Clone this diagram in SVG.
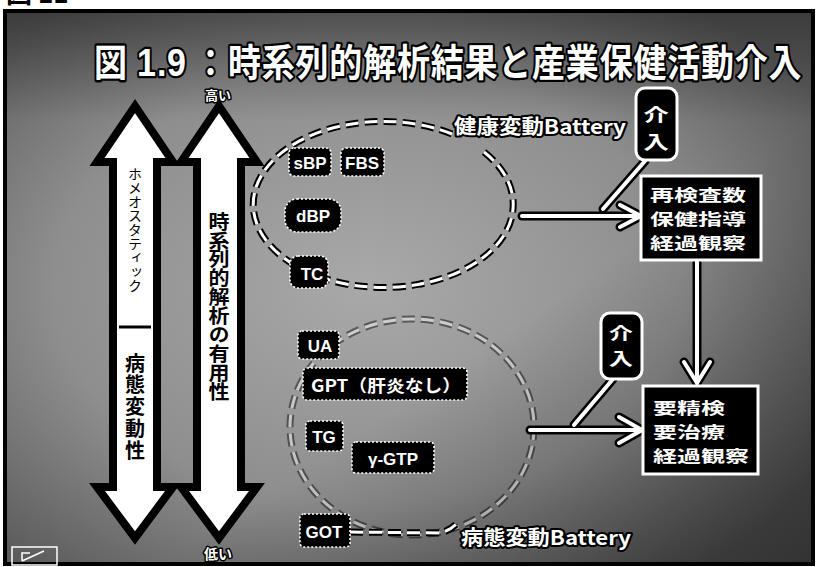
<svg xmlns="http://www.w3.org/2000/svg" width="818" height="567" viewBox="0 0 818 567">
<defs>
<radialGradient id="bgGrad" cx="0.45" cy="0.5" r="0.65">
<stop offset="0" stop-color="#a9a9a9"/>
<stop offset="0.6" stop-color="#8e8e8e"/>
<stop offset="1" stop-color="#5c5c5c"/>
</radialGradient>
<linearGradient id="darkBR" x1="0" y1="0" x2="1" y2="1">
<stop offset="0.6" stop-color="#000" stop-opacity="0"/>
<stop offset="1" stop-color="#000" stop-opacity="0.45"/>
</linearGradient>
<linearGradient id="topBand" x1="0" y1="0" x2="0" y2="1">
<stop offset="0" stop-color="#000" stop-opacity="0.35"/>
<stop offset="1" stop-color="#000" stop-opacity="0"/>
</linearGradient>
</defs>
<style>
.jp{font-family:"Noto Sans CJK JP","Noto Sans CJK SC",sans-serif;font-weight:bold}
.lat{font-family:"Liberation Sans",Arial,sans-serif;font-weight:bold}
.halo{fill:#fff;stroke:#000;stroke-width:4;paint-order:stroke;stroke-linejoin:round}
.item{fill:#000;stroke:#fff;stroke-width:1.6;stroke-dasharray:2 2}
.itemtxt{fill:#fff;font-size:17px}
.bigarrow{fill:#fff;stroke:#000;stroke-width:8;stroke-linejoin:miter}
.outline{fill:none;stroke:#000;stroke-width:9;stroke-linecap:round;stroke-linejoin:round}
.wline{fill:none;stroke:#fff;stroke-width:4;stroke-linecap:round;stroke-linejoin:round}
.dashO{fill:none;stroke:#000;stroke-width:7;stroke-dasharray:13 6}
.dashW{fill:none;stroke:#fff;stroke-width:3;stroke-dasharray:13 6}
.box{fill:#000;stroke:#fff;stroke-width:3}
.boxtxt{fill:#fff;font-size:16px}
</style>

<!-- page caption, cut off at top -->
<text x="6" y="3" class="jp" font-size="26" fill="#000">図 11</text>

<!-- slide background -->
<rect x="5" y="11" width="808" height="553" fill="url(#bgGrad)"/>
<rect x="5" y="11" width="808" height="110" fill="url(#topBand)"/>
<rect x="5" y="11" width="808" height="553" fill="url(#darkBR)"/>
<rect x="5" y="11" width="808" height="553" fill="none" stroke="#000" stroke-width="4"/>

<!-- title -->
<g id="title" transform="translate(0,76) scale(1,1.15)">
<text class="jp halo" font-size="33" y="0"><tspan x="94">図</tspan><tspan x="137" class="lat" font-size="34">1</tspan><tspan x="157" class="lat" font-size="34">.</tspan><tspan x="167" class="lat" font-size="34">9</tspan><tspan x="194">：</tspan><tspan x="228" letter-spacing="0.8">時系列的解析結果と産業保健活動介入</tspan></text>
</g>

<!-- left vertical arrows -->
<g id="arrow-homeostatic">
<polygon class="bigarrow" points="135,106 173,162 157,162 157,487 173,487 135,538 97,487 113,487 113,162 97,162"/>
<text x="135" y="167" class="jp" font-size="14" fill="#000" style="writing-mode:vertical-rl;font-weight:normal">ホメオスタティック</text>
<line x1="119" y1="327" x2="151" y2="327" stroke="#000" stroke-width="3"/>
<text x="135" y="353" class="jp" font-size="20" fill="#000" style="writing-mode:vertical-rl" textLength="107" lengthAdjust="spacing">病態変動性</text>
</g>
<g id="arrow-usefulness">
<polygon class="bigarrow" points="219,106 257,162 241,162 241,487 257,487 219,538 181,487 197,487 197,162 181,162"/>
<text x="219" y="212" class="jp" font-size="21" fill="#000" style="writing-mode:vertical-rl" textLength="189" lengthAdjust="spacingAndGlyphs">時系列的解析の有用性</text>
<text x="218" y="100" class="jp halo" font-size="13" text-anchor="middle" style="stroke-width:3">高い</text>
<text x="218" y="559" class="jp halo" font-size="14" text-anchor="middle" style="stroke-width:3">低い</text>
</g>

<!-- connectors -->
<g id="connectors">
<path class="dashO" d="M452,134 A130,83 0 1 0 484,152"/>
<path class="dashW" d="M452,134 A130,83 0 1 0 484,152"/>
<g opacity="0.45">
<ellipse class="dashO" cx="412" cy="427" rx="122" ry="108"/>
<ellipse class="dashW" cx="412" cy="427" rx="122" ry="108"/>
</g>
<path class="dashO" d="M350,532 L440,533 Q452,530 458,522"/>
<path class="dashW" d="M350,532 L440,533 Q452,530 458,522"/>
<g class="outline">
<line x1="522" y1="216" x2="640" y2="216"/>
<polyline points="620,205 641,216 620,227"/>
<line x1="530" y1="430" x2="641" y2="430"/>
<polyline points="619,417 642,430 619,443"/>
<line x1="697" y1="262" x2="697" y2="383"/>
<polyline points="684,362 697,383 710,362"/>
<line x1="645" y1="161" x2="603" y2="209"/>
<line x1="613" y1="379" x2="574" y2="425"/>
</g>
<g class="wline">
<line x1="522" y1="216" x2="640" y2="216"/>
<polyline points="620,205 641,216 620,227"/>
<line x1="530" y1="430" x2="641" y2="430"/>
<polyline points="619,417 642,430 619,443"/>
<line x1="697" y1="262" x2="697" y2="383"/>
<polyline points="684,362 697,383 710,362"/>
<line x1="645" y1="161" x2="603" y2="209"/>
<line x1="613" y1="379" x2="574" y2="425"/>
</g>
</g>

<!-- battery labels -->
<g id="label-health">
<text x="454" y="134" class="jp halo" font-size="20" textLength="172" lengthAdjust="spacingAndGlyphs">健康変動Battery</text>
</g>
<g id="label-disease">
<text x="461" y="545" class="jp halo" font-size="20" textLength="170" lengthAdjust="spacingAndGlyphs">病態変動Battery</text>
</g>

<!-- health battery items -->
<g id="item-sBP"><rect class="item" x="289" y="148" width="42" height="28" rx="5"/><text x="310" y="169" class="lat itemtxt" text-anchor="middle">sBP</text></g>
<g id="item-FBS"><rect class="item" x="341" y="148" width="43" height="28" rx="5"/><text x="362" y="169" class="lat itemtxt" text-anchor="middle">FBS</text></g>
<g id="item-dBP"><rect class="item" x="285" y="199" width="56" height="33" rx="12"/><text x="313" y="222" class="lat itemtxt" text-anchor="middle">dBP</text></g>
<g id="item-TC"><rect class="item" x="290" y="256" width="38" height="32" rx="8"/><text x="312" y="280" class="lat itemtxt" text-anchor="middle">TC</text></g>

<!-- disease battery items -->
<g id="item-UA"><rect class="item" x="298" y="331" width="41" height="28" rx="4"/><text x="320" y="352" class="lat itemtxt" text-anchor="middle">UA</text></g>
<g id="item-GPT"><rect class="item" x="303" y="368" width="164" height="32" rx="4"/><text x="311" y="392" class="jp itemtxt" textLength="150" lengthAdjust="spacingAndGlyphs">GPT（肝炎なし）</text></g>
<g id="item-TG"><rect class="item" x="306" y="421" width="37" height="30" rx="4"/><text x="324" y="443" class="lat itemtxt" text-anchor="middle">TG</text></g>
<g id="item-gGTP"><rect class="item" x="352" y="442" width="82" height="31" rx="4"/><text x="393" y="465" class="lat itemtxt" text-anchor="middle">γ-GTP</text></g>
<g id="item-GOT"><rect class="item" x="300" y="514" width="50" height="33" rx="4"/><text x="324" y="538" class="lat itemtxt" text-anchor="middle">GOT</text></g>

<!-- intervention bubbles -->
<g id="bubble-upper">
<rect x="636" y="88" width="41" height="72" rx="9" fill="#000" stroke="#fff" stroke-width="3"/>
<text class="jp" font-size="18" fill="#fff" text-anchor="middle" transform="translate(656,0) scale(1.4,1)"><tspan x="0" y="122">介</tspan><tspan x="0" y="149">入</tspan></text>
</g>
<g id="bubble-lower">
<rect x="601" y="313" width="41" height="66" rx="9" fill="#000" stroke="#fff" stroke-width="3"/>
<text class="jp" font-size="17" fill="#fff" text-anchor="middle" transform="translate(621,0) scale(1.4,1)"><tspan x="0" y="340">介</tspan><tspan x="0" y="365">入</tspan></text>
</g>

<!-- action boxes -->
<g id="box-recheck">
<rect class="box" x="641" y="176" width="120" height="84"/>
<text class="jp boxtxt" transform="translate(650,0) scale(1.5,1)"><tspan x="0" y="201">再検査数</tspan><tspan x="0" y="225">保健指導</tspan><tspan x="0" y="249">経過観察</tspan></text>
</g>
<g id="box-treatment">
<rect class="box" x="643" y="386" width="115" height="88"/>
<text class="jp boxtxt" transform="translate(653,0) scale(1.5,1)"><tspan x="0" y="414">要精検</tspan><tspan x="0" y="438">要治療</tspan><tspan x="0" y="462">経過観察</tspan></text>
</g>

<!-- slide nav icon -->
<g id="nav-icon">
<rect x="12" y="547" width="45" height="18" fill="none" stroke="#fff" stroke-width="1.5"/>
<path d="M22,561 L22,553 L30,553 M22,561 L44,551" fill="none" stroke="#fff" stroke-width="1.5"/>
</g>
</svg>
